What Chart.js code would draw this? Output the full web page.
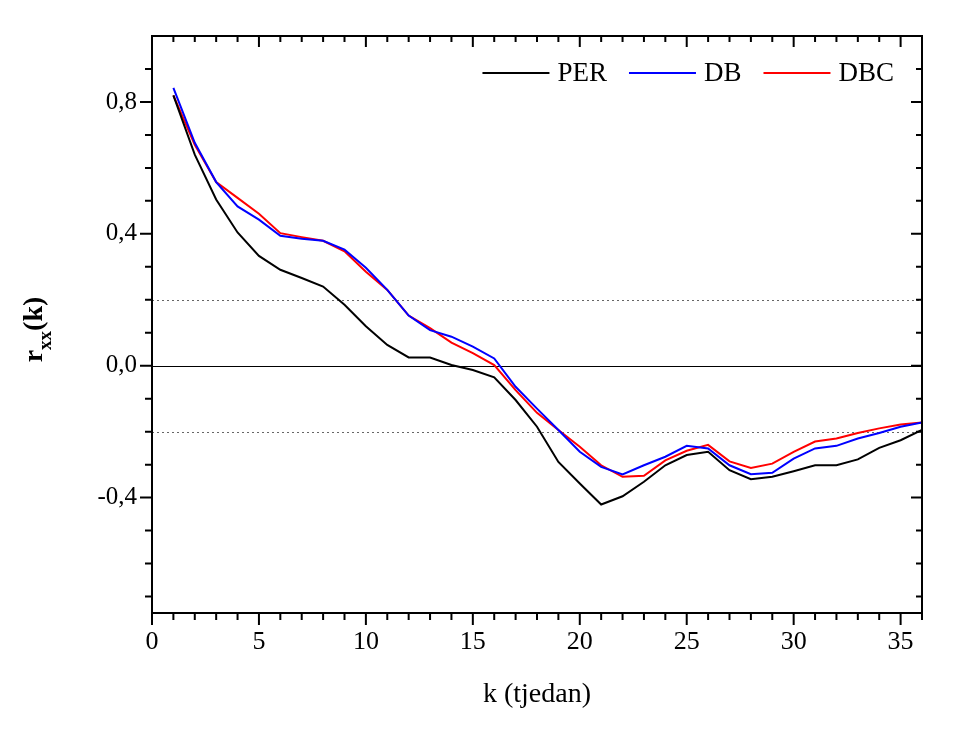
<!DOCTYPE html>
<html>
<head>
<meta charset="utf-8">
<script src="https://cdn.jsdelivr.net/npm/chart.js@4.4.1/dist/chart.umd.min.js"></script>
<style>
  html, body { margin: 0; padding: 0; background: #fff; }
  #wrap { width: 974px; height: 738px; position: relative; }
</style>
</head>
<body>
<div id="wrap"><canvas id="chart"></canvas></div>
<script>
// values, k = 1..36
const weeks = [1,2,3,4,5,6,7,8,9,10,11,12,13,14,15,16,17,18,19,20,21,22,23,24,25,26,27,28,29,30,31,32,33,34,35,36];
const per = [0.82, 0.64, 0.504, 0.404, 0.333, 0.291, 0.266, 0.24, 0.185, 0.12, 0.063, 0.025, 0.025, 0.002, -0.013, -0.035, -0.104, -0.185, -0.292, -0.357, -0.421, -0.396, -0.352, -0.302, -0.271, -0.261, -0.317, -0.344, -0.337, -0.32, -0.302, -0.302, -0.284, -0.249, -0.226, -0.195];
const db = [0.843, 0.676, 0.557, 0.483, 0.443, 0.394, 0.385, 0.379, 0.352, 0.297, 0.23, 0.152, 0.108, 0.088, 0.058, 0.022, -0.064, -0.13, -0.195, -0.261, -0.307, -0.33, -0.302, -0.276, -0.243, -0.251, -0.302, -0.329, -0.325, -0.282, -0.251, -0.243, -0.221, -0.204, -0.185, -0.172];
const dbc = [0.82, 0.67, 0.557, 0.509, 0.461, 0.402, 0.39, 0.379, 0.347, 0.285, 0.23, 0.152, 0.114, 0.07, 0.038, 0.002, -0.074, -0.143, -0.195, -0.246, -0.302, -0.337, -0.334, -0.287, -0.258, -0.24, -0.29, -0.31, -0.297, -0.261, -0.23, -0.221, -0.204, -0.19, -0.178, -0.172];
const seriesNames = ["PER", "DB", "DBC"];
const xTicks = [0, 5, 10, 15, 20, 25, 30, 35];
const yTicks = [-0.4, 0, 0.4, 0.8];
const confLevels = [0.2, -0.2];

const SERIF = '"Liberation Serif", "Times New Roman", serif';
const pts = arr => weeks.map((k, i) => ({ x: k, y: arr[i] }));

// frame, mirrored ticks, reference lines, legend and y title (subscript)
const decor = {
  id: 'decor',
  beforeDraw(c) {
    const ctx = c.ctx; ctx.save(); ctx.fillStyle = '#fff'; ctx.fillRect(0, 0, c.width, c.height); ctx.restore();
  },
  beforeDatasetsDraw(c) {
    const { ctx, chartArea: a, scales: { y } } = c;
    ctx.save();
    ctx.strokeStyle = '#666'; ctx.lineWidth = 1; ctx.setLineDash([2, 3]);
    confLevels.forEach(v => { const py = Math.round(y.getPixelForValue(v)) + 0.5; ctx.beginPath(); ctx.moveTo(a.left, py); ctx.lineTo(a.right, py); ctx.stroke(); });
    ctx.setLineDash([]); ctx.strokeStyle = '#000';
    const p0 = Math.round(y.getPixelForValue(0)) + 0.5;
    ctx.beginPath(); ctx.moveTo(a.left, p0); ctx.lineTo(a.right, p0); ctx.stroke();
    ctx.restore();
  },
  afterDatasetsDraw(c) {
    const { ctx, chartArea: a, scales: { x, y } } = c;
    ctx.save();
    ctx.strokeStyle = '#000'; ctx.lineWidth = 2;
    ctx.strokeRect(a.left, a.top, a.right - a.left, a.bottom - a.top);
    ctx.beginPath();
    for (let k = 0; k <= 36; k++) {
      const px = x.getPixelForValue(k), big = k % 5 === 0;
      ctx.moveTo(px, a.bottom); ctx.lineTo(px, a.bottom + (big ? 12 : 7));
      ctx.moveTo(px, a.top); ctx.lineTo(px, a.top + (big ? 11 : 6));
    }
    for (let i = -7; i <= 9; i++) {
      const py = y.getPixelForValue(i / 10), big = i % 4 === 0;
      ctx.moveTo(a.left, py); ctx.lineTo(a.left - (big ? 12 : 7), py);
      ctx.moveTo(a.right, py); ctx.lineTo(a.right - (big ? 11 : 6), py);
    }
    ctx.stroke();

    // legend inside the plot, top right
    ctx.font = '27px ' + SERIF; ctx.textBaseline = 'middle'; ctx.textAlign = 'left';
    const lineLen = 67, gap = 8, sep = 22, ly = 74;
    const items = c.data.datasets.map(d => ({ label: d.label, color: d.borderColor, w: lineLen + gap + ctx.measureText(d.label).width }));
    let lx = a.right - 28 - items.reduce((s, it) => s + it.w, 0) - sep * (items.length - 1);
    items.forEach(it => {
      ctx.strokeStyle = it.color; ctx.lineWidth = 2;
      ctx.beginPath(); ctx.moveTo(lx, ly - 1); ctx.lineTo(lx + lineLen, ly - 1); ctx.stroke();
      ctx.fillStyle = '#000'; ctx.fillText(it.label, lx + lineLen + gap, ly);
      lx += it.w + sep;
    });

    // y axis title r_xx(k), bold as in the original
    ctx.translate(41.5, 329.5); ctx.rotate(-Math.PI / 2);
    ctx.textBaseline = 'alphabetic'; ctx.fillStyle = '#000';
    const big = 'bold 28px ' + SERIF, sub = 'bold 19px ' + SERIF;
    ctx.font = big; const wr = ctx.measureText('r').width, wk = ctx.measureText('(k)').width;
    ctx.font = sub; const ws = ctx.measureText('xx').width;
    let tx = -(wr + ws + wk) / 2;
    ctx.font = big; ctx.fillText('r', tx, 0); tx += wr;
    ctx.font = sub; ctx.fillText('xx', tx, 9); tx += ws;
    ctx.font = big; ctx.fillText('(k)', tx, 0);
    ctx.restore();
  }
};

new Chart(document.getElementById('chart'), {
  type: 'line',
  data: {
    datasets: [
      { label: seriesNames[0], data: pts(per), borderColor: '#000000', borderWidth: 2, pointRadius: 0, tension: 0 },
      { label: seriesNames[1], data: pts(db), borderColor: '#0000ff', borderWidth: 2, pointRadius: 0, tension: 0 },
      { label: seriesNames[2], data: pts(dbc), borderColor: '#ff0000', borderWidth: 2, pointRadius: 0, tension: 0 }
    ]
  },
  options: {
    responsive: true, maintainAspectRatio: false, animation: false, devicePixelRatio: 1,
    layout: { padding: { left: 0, top: 36, right: 52, bottom: 0 } },
    plugins: { legend: { display: false }, tooltip: { enabled: false } },
    scales: {
      x: {
        type: 'linear', min: 0, max: 36,
        afterBuildTicks: s => { s.ticks = xTicks.map(v => ({ value: v })); },
        afterFit: s => { s.height = 125; },
        grid: { display: false, drawTicks: false }, border: { display: false },
        ticks: { color: '#000', padding: 14, maxRotation: 0, font: { family: SERIF, size: 26 } },
        title: { display: true, text: 'k (tjedan)', color: '#000', font: { family: SERIF, size: 28 }, padding: { top: 0, bottom: 27 } }
      },
      y: {
        type: 'linear', min: -0.75, max: 1.0,
        afterBuildTicks: s => { s.ticks = yTicks.map(v => ({ value: v })); },
        afterFit: s => { s.width = 152; },
        grid: { display: false, drawTicks: false }, border: { display: false },
        ticks: { color: '#000', padding: 15, font: { family: SERIF, size: 25 }, callback: v => v.toFixed(1).replace('.', ',') }
      }
    }
  },
  plugins: [decor]
});
</script>
</body>
</html>
